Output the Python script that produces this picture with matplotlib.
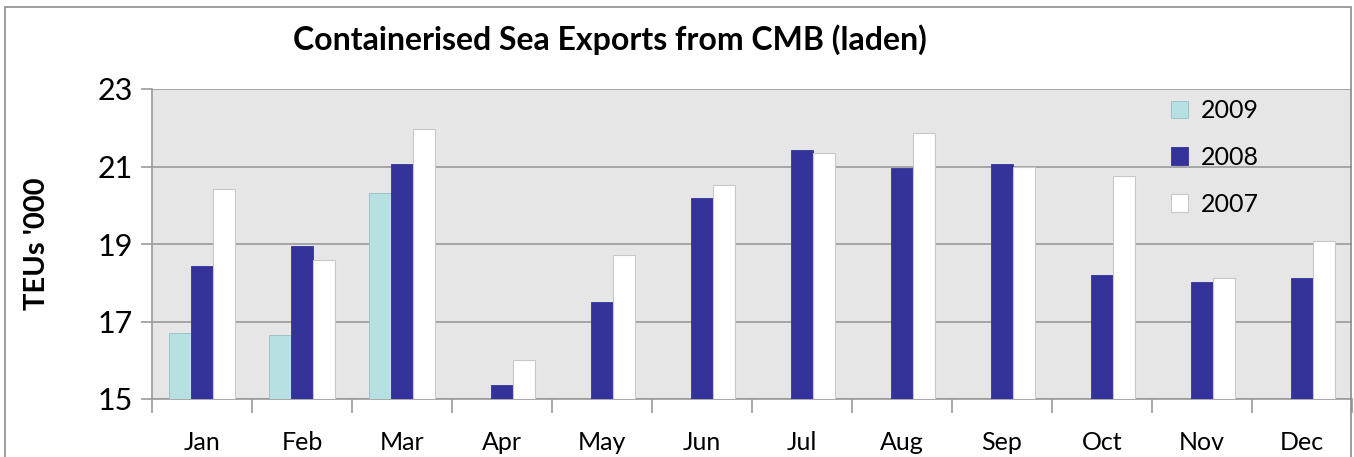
import numpy as np
import matplotlib.pyplot as plt
from matplotlib.patches import Rectangle

plt.rcParams['font.family'] = ['Lato', 'DejaVu Sans']

# Data (TEUs '000)
months = ['Jan', 'Feb', 'Mar', 'Apr', 'May', 'Jun', 'Jul', 'Aug', 'Sep', 'Oct', 'Nov', 'Dec']
teu_2009 = [16.70, 16.66, 20.32]
teu_2008 = [18.42, 18.96, 21.06, 15.35, 17.51, 20.19, 21.42, 20.96, 21.07, 18.21, 18.03, 18.12]
teu_2007 = [20.43, 18.59, 21.98, 16.00, 18.72, 20.51, 21.34, 21.86, 21.00, 20.75, 18.11, 19.07]
y_ticks = [15, 17, 19, 21, 23]

fig = plt.figure(figsize=(13.54, 4.57), dpi=100)
ax = fig.add_axes([152 / 1354, 1 - 399 / 457, 1200 / 1354, 310 / 457])

# outer chart border
fig.patches.append(Rectangle((5 / 1354, -0.05), 1346 / 1354, 1.05 - 7 / 457,
                             transform=fig.transFigure, fill=False,
                             edgecolor='#8c8c8c', linewidth=1.2))

x = np.arange(len(months))
w = 0.22
base = 15
ax.bar(x[:len(teu_2009)] - w, np.array(teu_2009) - base, w, bottom=base,
       color='#b7e0e3', edgecolor='#8fbfc3', linewidth=0.6, label='2009', zorder=3)
ax.bar(x, np.array(teu_2008) - base, w, bottom=base,
       color='#333399', edgecolor='#333399', linewidth=0.6, label='2008', zorder=3)
ax.bar(x + w, np.array(teu_2007) - base, w, bottom=base,
       color='white', edgecolor='#c8c8c8', linewidth=0.8, label='2007', zorder=3)

ax.set_facecolor('#e6e6e6')
ax.set_xlim(-0.5, len(months) - 0.5)
ax.set_ylim(15, 23)
ax.set_yticks(y_ticks)
ax.set_yticklabels([str(t) for t in y_ticks], fontsize=22)
ax.yaxis.grid(True, color='#9a9a9a', linewidth=1.2, zorder=0)
ax.set_axisbelow(True)

# month labels centred, ticks between groups
ax.set_xticks(x)
ax.set_xticklabels(months, fontsize=18)
ax.tick_params(axis='x', length=0, pad=31)
for lbl in ax.get_xticklabels():
    lbl.set_verticalalignment('center')
ax.set_xticks(np.arange(len(months) + 1) - 0.5, minor=True)
ax.tick_params(axis='x', which='minor', length=10, color='#9a9a9a', width=1.2)
ax.tick_params(axis='y', length=8, color='#9a9a9a', width=1.2, pad=6)

for side in ['top', 'right']:
    ax.spines[side].set_visible(False)
for side in ['left', 'bottom']:
    ax.spines[side].set_color('#9a9a9a')
    ax.spines[side].set_linewidth(1.2)

ax.set_ylabel("TEUs '000", fontsize=21, fontweight='bold')
ax.yaxis.set_label_coords(-0.085, 0.5)

fig.text(610 / 1354, 1 - 40 / 457, 'Containerised Sea Exports from CMB (laden)',
         ha='center', va='center', fontsize=23, fontweight='bold')

leg = ax.legend(loc='upper left', bbox_to_anchor=(0.83, 1.04), frameon=False,
                fontsize=18, handlelength=0.7, handleheight=0.7,
                labelspacing=0.95, handletextpad=0.5)

fig.savefig('out.png', dpi=100)
